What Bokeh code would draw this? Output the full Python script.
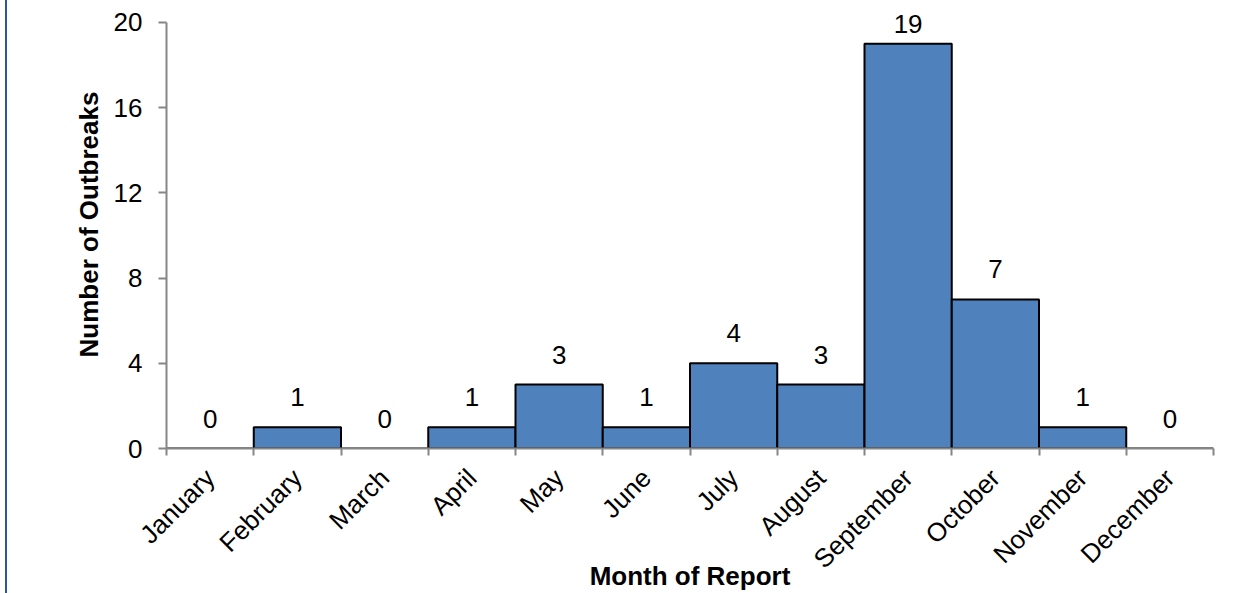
import numpy as np
from bokeh.plotting import figure
from bokeh.layouts import row
from bokeh.models import ColumnDataSource, FixedTicker, Range1d, Div, LabelSet
from bokeh.core.properties import value
from bokeh.embed import file_html
from bokeh.resources import INLINE

months = ["January", "February", "March", "April", "May", "June", "July",
          "August", "September", "October", "November", "December"]
outbreaks = [0, 1, 0, 1, 3, 1, 4, 3, 19, 7, 1, 0]
y_ticks = [0, 4, 8, 12, 16, 20]

FONT = "Liberation Sans"
FS = "26px"

n = len(months)
centers = np.arange(n) + 0.5
bounds = list(np.arange(n + 1).astype(float))

# Excel-like label placement: labels sit above bars, clamped to the plot top
ymax = 20
label_off = [21 if v <= 17 else 11 for v in outbreaks]

src = ColumnDataSource(dict(x=centers, top=outbreaks, lbl=[str(v) for v in outbreaks],
                            off=label_off))

# frame reaches the top of the canvas; the axis itself stops at 20
p = figure(width=1246, height=593, output_backend="svg", toolbar_location=None,
           x_range=Range1d(0, n), y_range=Range1d(0, ymax + 22 / 21.35),
           min_border_left=159, min_border_right=40, min_border_top=0, min_border_bottom=144)
p.outline_line_color = None
p.grid.grid_line_color = None
p.background_fill_color = "white"
p.border_fill_color = "white"

p.vbar(x="x", top="top", width=1.0, bottom=0, source=src,
       fill_color="#4F81BD", line_color="black", line_width=2)

labels = LabelSet(x="x", y="top", text="lbl", source=src, y_offset="off",
                  text_align="center", text_baseline="alphabetic",
                  text_font=value(FONT), text_font_size=value(FS), text_color="black")
p.add_layout(labels)

# x axis
xa = p.xaxis[0]
xa.ticker = FixedTicker(ticks=list(centers), minor_ticks=bounds)
xa.major_label_overrides = {float(c): m for c, m in zip(centers, months)}
xa.major_tick_out = 0
xa.major_tick_in = 0
xa.minor_tick_out = 7
xa.minor_tick_in = 0
xa.minor_tick_line_color = "#868686"
xa.minor_tick_line_width = 2
xa.axis_line_color = "#868686"
xa.axis_line_width = 2
xa.major_label_orientation = np.pi / 4
xa.major_label_text_font = FONT
xa.major_label_text_font_size = FS
xa.major_label_text_color = "black"
xa.major_label_standoff = 18
xa.axis_label = "Month of Report"
xa.axis_label_text_font = FONT
xa.axis_label_text_font_size = FS
xa.axis_label_text_font_style = "bold"
xa.axis_label_text_color = "black"
xa.axis_label_standoff = -27

# y axis
ya = p.yaxis[0]
ya.ticker = FixedTicker(ticks=y_ticks, minor_ticks=[])
ya.bounds = (0, ymax)
ya.major_tick_out = 8
ya.major_tick_in = 0
ya.major_tick_line_color = "#868686"
ya.major_tick_line_width = 2
ya.axis_line_color = "#868686"
ya.axis_line_width = 2
ya.major_label_text_font = FONT
ya.major_label_text_font_size = FS
ya.major_label_text_color = "black"
ya.major_label_standoff = 16
ya.axis_label = "Number of Outbreaks"
ya.axis_label_text_font = FONT
ya.axis_label_text_font_size = FS
ya.axis_label_text_font_style = "bold"
ya.axis_label_text_color = "black"
ya.axis_label_standoff = 7

# left page border line
edge = Div(width=7, height=593, margin=0,
           styles={"border-right": "2px solid #2B5797", "box-sizing": "border-box"})

layout = row(edge, p, spacing=0)
open("out.html", "w").write(file_html(layout, INLINE))
